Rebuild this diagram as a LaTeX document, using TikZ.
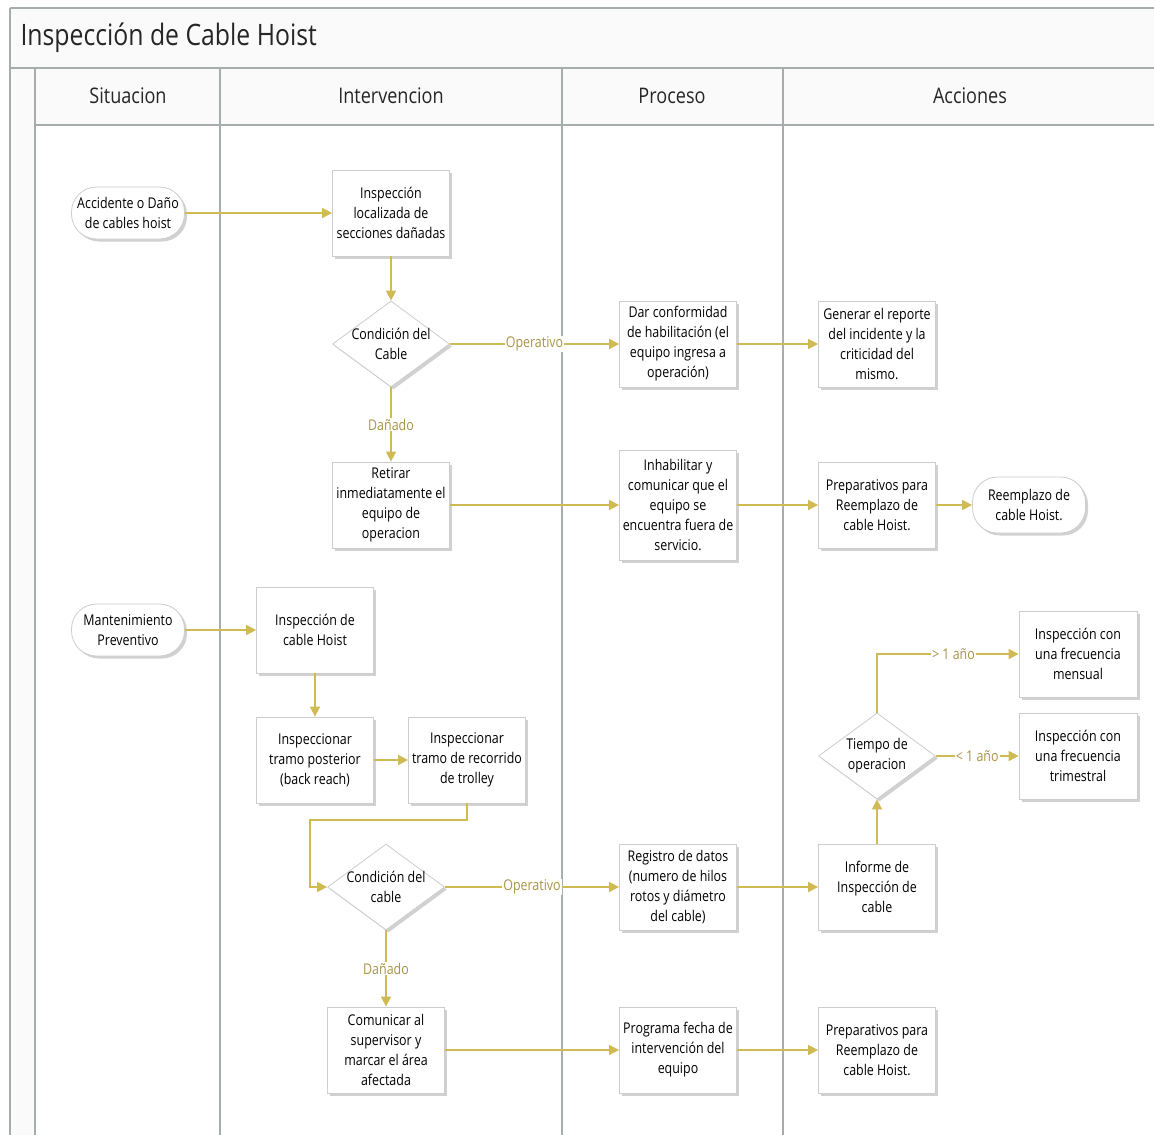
\documentclass[tikz,border=0pt]{standalone}
\usepackage{fontspec}
\setmainfont{Open Sans}[FakeStretch=0.84]
\usetikzlibrary{arrows.meta,shapes.geometric,shadows}

\definecolor{lanegrey}{RGB}{165,173,173}
\definecolor{boxgrey}{RGB}{205,205,205}
\definecolor{flowgold}{RGB}{208,186,84}
\definecolor{labelgold}{RGB}{168,148,72}
\definecolor{bandfill}{RGB}{250,250,250}

\tikzset{
  lane/.style={draw=lanegrey, line width=2.4pt},
  stepbox/.style={draw=boxgrey, fill=white, line width=0.8pt,
    minimum width=117pt, minimum height=86pt, inner sep=0pt, align=center,
    font=\fontsize{14.8}{20}\selectfont,
    drop shadow={shadow xshift=2.5pt, shadow yshift=-2.5pt, fill=black, opacity=0.18}},
  terminal/.style={stepbox, minimum width=113pt, minimum height=52pt, rounded corners=25pt},
  decision/.style={diamond, draw=boxgrey, fill=white, line width=0.8pt,
    minimum width=117pt, minimum height=86pt, inner sep=0pt,
    drop shadow={shadow xshift=2.5pt, shadow yshift=-2.5pt, fill=black, opacity=0.18}},
  dtext/.style={align=center, font=\fontsize{14.8}{20}\selectfont, inner sep=0pt},
  flow/.style={draw=flowgold, line width=1.6pt, -{Triangle[length=10pt,width=10pt]}},
  flowlabel/.style={fill=white, text=labelgold, inner sep=1pt, font=\fontsize{14.8}{16}\selectfont},
  header/.style={font=\fontsize{21.5}{25}\selectfont, text=black!85}
}

\begin{document}
\begin{tikzpicture}[x=1pt, y=-1pt]
\useasboundingbox (0,0) rectangle (1154,1135);

% swimlane frame
\fill[bandfill] (10,8) rectangle (1154,125);
\fill[bandfill] (10,125) rectangle (35,1135);
\draw[lane] (10,8) -- (1154,8);
\draw[lane] (10,68) -- (1154,68);
\draw[lane] (35,125) -- (1154,125);
\draw[lane] (10,8) -- (10,1135);
\foreach \lx in {35,220,562,783} \draw[lane] (\lx,68) -- (\lx,1135);

% title and lane headers
\node[anchor=west, font=\fontsize{29.5}{33}\selectfont, text=black!85] (title) at (17,38) {Inspección de Cable Hoist};
\node[header] (h1) at (128,96) {Situacion};
\node[header] (h2) at (391,96) {Intervencion};
\node[header] (h3) at (672,96) {Proceso};
\node[header] (h4) at (970,96) {Acciones};

% upper branch: accident or damage
\node[terminal] (s1) at (128,213) {Accidente o Daño\\de cables hoist};
\node[stepbox] (b1) at (391,213) {Inspección\\localizada de\\secciones dañadas};
\node[decision] (d1) at (391,344) {};
\node[dtext] (d1t) at (391,344) {Condición del\\Cable};
\node[stepbox] (b2) at (391,505) {Retirar\\inmediatamente el\\equipo de\\operacion};
\node[stepbox] (p1) at (678,344) {Dar conformidad\\de habilitación (el\\equipo ingresa a\\operación)};
\node[stepbox] (a2) at (877,344) {Generar el reporte\\del incidente y la\\criticidad del\\mismo.};
\node[stepbox, minimum height=110pt] (p2) at (678,505) {Inhabilitar y\\comunicar que el\\equipo se\\encuentra fuera de\\servicio.};
\node[stepbox] (a3) at (877,505) {Preparativos para\\Reemplazo de\\cable Hoist.};
\node[terminal, minimum height=56pt] (t1) at (1029,505) {Reemplazo de\\cable Hoist.};

% lower branch: preventive maintenance
\node[terminal] (s2) at (128,630) {Mantenimiento\\Preventivo};
\node[stepbox] (b3) at (315,630) {Inspección de\\cable Hoist};
\node[stepbox] (b4) at (315,760) {Inspeccionar\\tramo posterior\\(back reach)};
\node[stepbox] (b5) at (467,760) {Inspeccionar\\tramo de recorrido\\de trolley};
\node[decision] (d2) at (386,887) {};
\node[dtext] (d2t) at (386,887) {Condición del\\cable};
\node[stepbox] (b6) at (386,1050) {Comunicar al\\supervisor y\\marcar el área\\afectada};
\node[stepbox] (p3) at (678,887) {Registro de datos\\(numero de hilos\\rotos y diámetro\\del cable)};
\node[stepbox] (a4) at (877,887) {Informe de\\Inspección de\\cable};
\node[decision] (d3) at (877,756) {};
\node[dtext] (d3t) at (877,756) {Tiempo de\\operacion};
\node[stepbox, minimum width=118pt] (a5) at (1078,654) {Inspección con\\una frecuencia\\mensual};
\node[stepbox, minimum width=118pt] (a6) at (1078,756) {Inspección con\\una frecuencia\\trimestral};
\node[stepbox] (p4) at (678,1050) {Programa fecha de\\intervención del\\equipo};
\node[stepbox] (a7) at (877,1050) {Preparativos para\\Reemplazo de\\cable Hoist.};

% bend points of the trolley-to-condition connector
\coordinate (k1) at (467,820);
\coordinate (k2) at (310,820);
\coordinate (k3) at (310,887);

% connectors, upper branch
\draw[flow] (s1) -- (b1);
\draw[flow] (b1) -- (d1);
\draw[flow] (d1) -- node[flowlabel] {Operativo} (p1);
\draw[flow] (d1) -- node[flowlabel] {Dañado} (b2);
\draw[flow] (p1) -- (a2);
\draw[flow] (b2) -- (p2);
\draw[flow] (p2) -- (a3);
\draw[flow] (a3) -- (t1);

% connectors, lower branch
\draw[flow] (s2) -- (b3);
\draw[flow] (b3) -- (b4);
\draw[flow] (b4) -- (b5);
\draw[flow] (b5.south) -- (k1) -- (k2) -- (k3) -- (d2.west);
\draw[flow] (d2) -- node[flowlabel] {Operativo} (p3);
\draw[flow] (d2) -- node[flowlabel] {Dañado} (b6);
\draw[flow] (p3) -- (a4);
\draw[flow] (a4) -- (d3);
\draw[flow] (d3.north) |- node[flowlabel, pos=0.77] {> 1 año} (a5.west);
\draw[flow] (d3.east) -- node[flowlabel] {< 1 año} (a6.west);
\draw[flow] (b6) -- (p4);
\draw[flow] (p4) -- (a7);
\end{tikzpicture}
\end{document}
